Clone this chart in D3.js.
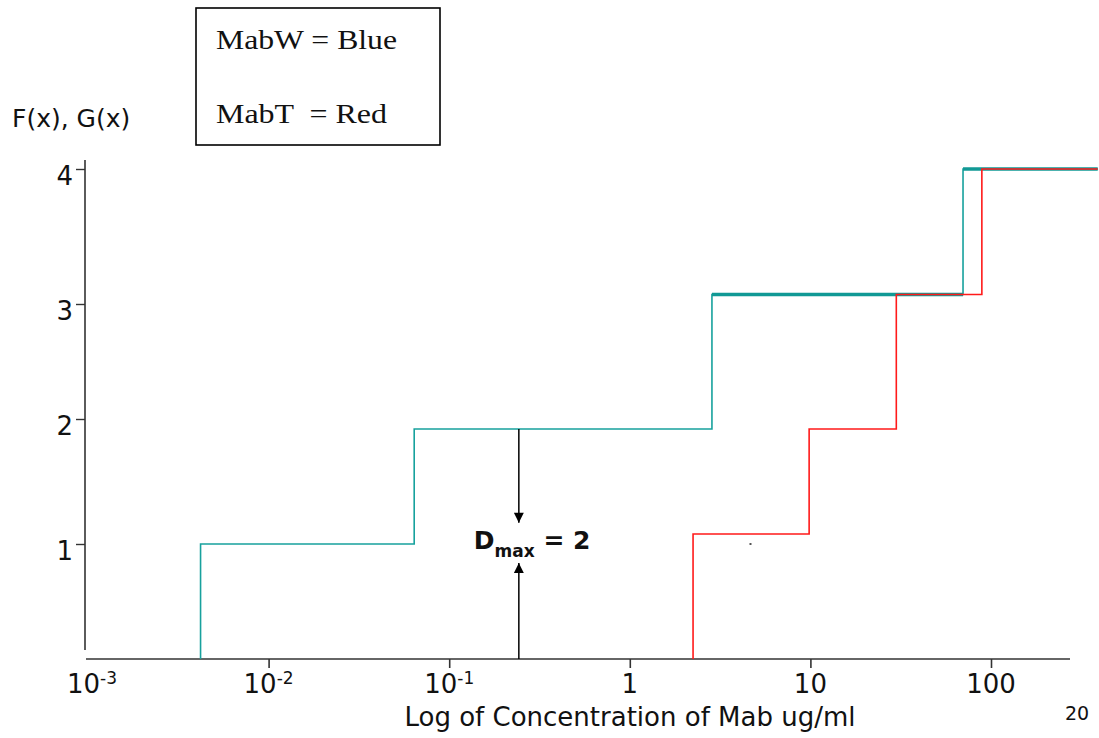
<!DOCTYPE html>
<html>
<head>
<meta charset="utf-8">
<script src="https://cdn.jsdelivr.net/npm/d3@7"></script>
<style>
  body { margin: 0; background: #fff; }
  text { font-family: "DejaVu Sans", Verdana, sans-serif; fill: #111; }
</style>
</head>
<body>
<svg id="chart" width="1099" height="738"></svg>
<script>
// cumulative step data: concentration where the count jumps, and the level after the jump
const mabW_x = [0.0042, 0.064, 2.85, 70];
const mabW_y = [1.0, 1.92, 3.07, 4.0];
const mabT_x = [2.24, 9.84, 29.9, 89];
const mabT_y = [1.08, 1.92, 3.07, 4.0];
const xEndValue = 390;

const xTickValues = [1e-3, 1e-2, 1e-1, 1, 10, 100];
const xTickBase = ['10', '10', '10', '1', '10', '100'];
const xTickExp = ['-3', '-2', '-1', '', '', ''];
const yTickValues = [1, 2, 3, 4];

// D max marker
const dmaxX = 0.243;
const dmaxTop = [1.92, 1.17];
const dmaxBottom = [0, 0.835];

const svg = d3.select('svg#chart');

var x = d3.scaleLog().domain([1e-3, 100]).range([88, 991]);
// the hand drawn y axis is not evenly spaced
var y = d3.scaleLinear().domain([0, 1, 2, 3, 4]).range([659, 544, 419, 304, 169]);

const teal = '#17a19d';
const red = '#ff1a1a';

svg.append('defs')
  .append('marker')
  .attr('id', 'arrow')
  .attr('viewBox', '0 0 10 10')
  .attr('refX', 10)
  .attr('refY', 5)
  .attr('markerUnits', 'userSpaceOnUse')
  .attr('markerWidth', 11)
  .attr('markerHeight', 10)
  .attr('orient', 'auto')
  .append('path')
  .attr('d', 'M0,0 L10,5 L0,10 z')
  .attr('fill', '#000');

// axes
svg.append('line')
  .attr('x1', 85).attr('x2', 85)
  .attr('y1', 160).attr('y2', 650)
  .attr('stroke', '#333').attr('stroke-width', 1.6);

svg.append('line')
  .attr('x1', 86).attr('x2', 1070)
  .attr('y1', 659).attr('y2', 659)
  .attr('stroke', '#333').attr('stroke-width', 1.6);

var yAxis = svg.append('g')
  .attr('transform', 'translate(85,0)')
  .call(d3.axisLeft(y).tickValues(yTickValues).tickSize(9).tickPadding(3).tickFormat(d3.format('d')));
yAxis.select('.domain').remove();
yAxis.selectAll('line').attr('stroke', '#333').attr('stroke-width', 1.4);
yAxis.selectAll('text')
  .attr('dy', '0.6em')
  .style('font-size', '26px')
  .style('font-family', '"DejaVu Sans", Verdana, sans-serif')
  .attr('fill', '#111');

var xAxis = svg.append('g')
  .attr('transform', 'translate(0,659)')
  .call(d3.axisBottom(x).tickValues(xTickValues.slice(1)).tickSize(9).tickFormat(() => ''));
xAxis.select('.domain').remove();
xAxis.selectAll('line').attr('stroke', '#333').attr('stroke-width', 1.6);

var xLabels = svg.append('g')
  .selectAll('text')
  .data(xTickValues)
  .enter()
  .append('text')
  .attr('x', (d, i) => x(d) + (i === 0 ? 4 : 0))
  .attr('y', 693)
  .attr('text-anchor', 'middle')
  .style('font-size', '26px');
xLabels.append('tspan').text((d, i) => xTickBase[i]);
xLabels.append('tspan')
  .attr('dy', -9)
  .style('font-size', '17px')
  .text((d, i) => xTickExp[i]);

// step curves
function stepPoints(xs, ys) {
  const pts = [[xs[0], 0]];
  xs.forEach((v, i) => pts.push([v, ys[i]]));
  pts.push([xEndValue, ys[ys.length - 1]]);
  return pts;
}

var line = d3.line()
  .x(d => x(d[0]))
  .y(d => y(d[1]))
  .curve(d3.curveStepAfter);

svg.append('path')
  .attr('d', line(stepPoints(mabW_x, mabW_y)))
  .attr('fill', 'none')
  .attr('stroke', teal)
  .attr('stroke-width', 1.6);

// upper levels of MabW are drawn heavier (overlapping replicates)
const heavy = [2, 3].map(i => [
  [mabW_x[i], mabW_y[i]],
  [i + 1 < mabW_x.length ? mabW_x[i + 1] : xEndValue, mabW_y[i]]
]);
svg.append('g')
  .selectAll('path')
  .data(heavy)
  .enter()
  .append('path')
  .attr('d', d3.line().x(d => x(d[0])).y(d => y(d[1])))
  .attr('stroke', '#119995')
  .attr('stroke-width', 3.6);

svg.append('path')
  .attr('d', line(stepPoints(mabT_x, mabT_y)))
  .attr('fill', 'none')
  .attr('stroke', red)
  .attr('stroke-width', 1.6);

// stray dot
svg.append('rect')
  .attr('x', x(4.6)).attr('y', y(1.0) - 1)
  .attr('width', 2).attr('height', 2)
  .attr('fill', '#555');

// D max arrows
[dmaxTop, dmaxBottom].forEach(seg => {
  svg.append('line')
    .attr('x1', x(dmaxX)).attr('x2', x(dmaxX))
    .attr('y1', y(seg[0])).attr('y2', y(seg[1]))
    .attr('stroke', '#000')
    .attr('stroke-width', 1.5)
    .attr('marker-end', 'url(#arrow)');
});

var dmax = svg.append('text')
  .attr('x', x(dmaxX) - 45)
  .attr('y', y(1) + 5)
  .style('font-weight', 'bold')
  .style('font-size', '25px');
dmax.append('tspan').text('D');
dmax.append('tspan').attr('dy', 8).style('font-size', '17px').text('max');
dmax.append('tspan').attr('dy', -8).text(' = 2');

// labels
svg.append('text')
  .attr('x', 12).attr('y', 127)
  .style('font-size', '25px')
  .text('F(x), G(x)');

svg.append('text')
  .attr('x', 630).attr('y', 726)
  .attr('text-anchor', 'middle')
  .style('font-size', '26px')
  .text('Log of Concentration of Mab ug/ml');

svg.append('text')
  .attr('x', 1077).attr('y', 720)
  .attr('text-anchor', 'middle')
  .style('font-size', '19px')
  .text('20');

// legend
svg.append('rect')
  .attr('x', 196).attr('y', 8)
  .attr('width', 244).attr('height', 137)
  .attr('fill', 'none')
  .attr('stroke', '#000')
  .attr('stroke-width', 1.6);

const legendLines = ['MabW = Blue', 'MabT  = Red'];
const legendWidths = [181, 171];
svg.append('g')
  .selectAll('text')
  .data(legendLines)
  .enter()
  .append('text')
  .attr('x', 216)
  .attr('y', (d, i) => 49 + i * 74)
  .attr('textLength', (d, i) => legendWidths[i])
  .attr('lengthAdjust', 'spacingAndGlyphs')
  .style('white-space', 'pre')
  .style('font-family', '"Liberation Serif", "Times New Roman", serif')
  .style('font-size', '28px')
  .text(d => d);
</script>
</body>
</html>
